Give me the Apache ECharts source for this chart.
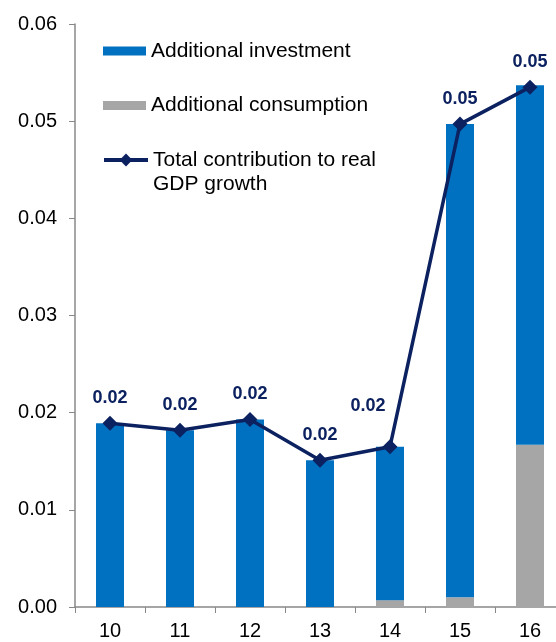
<!DOCTYPE html>
<html>
<head>
<meta charset="utf-8">
<script src="https://cdn.jsdelivr.net/npm/echarts@6/dist/echarts.min.js"></script>
<style>html,body{margin:0;padding:0;background:#fff;overflow:hidden;width:556px;height:642px;}#c{width:600px;height:642px;}</style>
</head>
<body>
<div id="c"></div>
<script>
var categories = ['10', '11', '12', '13', '14', '15', '16'];
var investment = [0.0189, 0.0182, 0.0193, 0.0151, 0.0158, 0.0487, 0.0370];
var consumption = [0, 0, 0, 0, 0.0007, 0.0010, 0.0167];
var total = [0.0189, 0.0182, 0.0193, 0.0151, 0.0165, 0.0497, 0.0535];
var yTicks = { min: 0, max: 0.06, interval: 0.01 };

var NAVY = '#0B2160';
var FONT = 'Liberation Sans, Arial, sans-serif';

var lineData = total.map(function (v, i) {
  var d = { value: v };
  if (i === 4) d.label = { offset: [-22, -15] };
  return d;
});

var legendText = { fontSize: 21, fontFamily: FONT, color: '#000', lineHeight: 24 };

var chart = echarts.init(document.getElementById('c'));
chart.setOption({
  animation: false,
  backgroundColor: '#fff',
  grid: { left: 75, width: 490, top: 24, bottom: 35, containLabel: false },
  legend: [
    { data: [{ name: 'Additional investment', icon: 'rect' }], left: 103, top: 39, padding: 0,
      itemWidth: 43, itemHeight: 9, itemGap: 0, textStyle: legendText },
    { data: [{ name: 'Additional consumption', icon: 'rect' }], left: 103, top: 93.5, padding: 0,
      itemWidth: 43, itemHeight: 9, itemGap: 0, textStyle: legendText },
    { data: ['Total contribution to real GDP growth'], left: 102, top: 124, padding: 0,
      itemWidth: 44, itemHeight: 16, itemGap: 0,
      lineStyle: { width: 4 },
      formatter: function () { return ' \nTotal contribution to real\nGDP growth'; },
      textStyle: legendText }
  ],
  xAxis: {
    type: 'category',
    data: categories,
    axisLine: { lineStyle: { color: '#888', width: 1.5 } },
    axisTick: { show: true, length: 6, lineStyle: { color: '#888' } },
    axisLabel: { fontSize: 20, fontFamily: FONT, color: '#000', margin: 14 }
  },
  yAxis: {
    type: 'value',
    min: yTicks.min, max: yTicks.max, interval: yTicks.interval,
    splitLine: { show: false },
    axisLine: { show: true, lineStyle: { color: '#888', width: 1.5 } },
    axisTick: { show: true, length: 6, lineStyle: { color: '#888' } },
    axisLabel: { fontSize: 20, fontFamily: FONT, color: '#000', margin: 18,
      formatter: function (v) { return v.toFixed(2); } }
  },
  series: [
    { name: 'Additional consumption', type: 'bar', stack: 's', data: consumption,
      barWidth: 28, itemStyle: { color: '#A6A6A6' } },
    { name: 'Additional investment', type: 'bar', stack: 's', data: investment,
      barWidth: 28, itemStyle: { color: '#0070C0' } },
    { name: 'Total contribution to real GDP growth', type: 'line', data: lineData,
      symbol: 'diamond', symbolSize: 15,
      lineStyle: { color: NAVY, width: 3.5 }, itemStyle: { color: NAVY },
      label: { show: true, position: 'top', distance: 9, color: NAVY,
        fontSize: 18, fontWeight: 'bold', fontFamily: FONT,
        formatter: function (p) { return p.value.toFixed(2); } } }
  ]
});
</script>
</body>
</html>
